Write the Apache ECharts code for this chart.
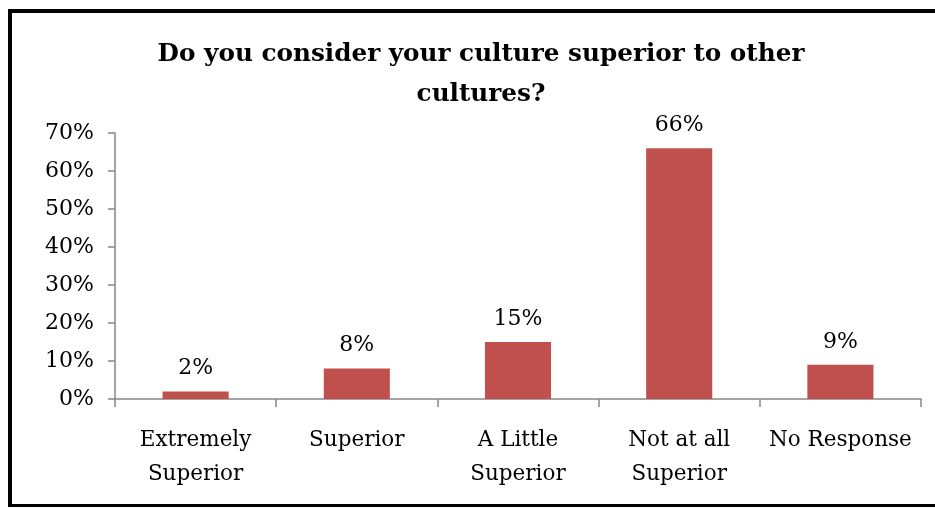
<!DOCTYPE html>
<html>
<head>
<meta charset="utf-8">
<script src="https://cdn.jsdelivr.net/npm/echarts@6/dist/echarts.min.js"></script>
<style>
  html, body { margin: 0; padding: 0; background: #fff; }
  #wrap { position: absolute; left: 0; top: 0; width: 935px; height: 508px; }
  #frame { position: absolute; left: 8px; top: 9px; width: 927px; height: 491px;
           border-left: 4px solid #000; border-top: 4px solid #000; border-bottom: 3px solid #000; box-sizing: content-box; }
  #chart { position: absolute; left: 0; top: 0; width: 935px; height: 508px; }
</style>
</head>
<body>
<div id="wrap">
  <div id="frame"></div>
  <div id="chart"></div>
</div>
<script>
// Survey responses, percent of respondents
const categories = ['Extremely\nSuperior', 'Superior', 'A Little\nSuperior', 'Not at all\nSuperior', 'No Response'];
const values = [2, 8, 15, 66, 9];
const yTicks = [0, 10, 20, 30, 40, 50, 60, 70];
const titleText = 'Do you consider your culture superior to other\ncultures?';

const FONT = "'DejaVu Serif', 'Liberation Serif', serif";
const AXIS_GRAY = '#868686';

const chart = echarts.init(document.getElementById('chart'), null, { renderer: 'canvas' });
chart.setOption({
  animation: false,
  backgroundColor: 'transparent',
  title: {
    text: titleText,
    left: 476,
    top: 30,
    textAlign: 'center',
    textStyle: { fontFamily: FONT, fontWeight: 'bold', fontSize: 24.7, lineHeight: 40, color: '#000' }
  },
  grid: { left: 115, right: 14, top: 133, bottom: 109, containLabel: false },
  xAxis: {
    type: 'category',
    data: categories,
    axisLine: { lineStyle: { color: AXIS_GRAY, width: 1.5 } },
    axisTick: { show: true, length: 8, alignWithLabel: false, lineStyle: { color: AXIS_GRAY, width: 1.5 } },
    axisLabel: { fontFamily: FONT, fontSize: 21.5, color: '#000', lineHeight: 34, margin: 24, interval: 0 }
  },
  yAxis: {
    type: 'value',
    min: yTicks[0],
    max: yTicks[yTicks.length - 1],
    interval: yTicks[1] - yTicks[0],
    splitLine: { show: false },
    axisLine: { show: true, lineStyle: { color: AXIS_GRAY, width: 1.5 } },
    axisTick: { show: true, length: 7, lineStyle: { color: AXIS_GRAY, width: 1.5 } },
    axisLabel: { fontFamily: FONT, fontSize: 22, color: '#000', margin: 21, formatter: v => v + '%' }
  },
  series: [{
    type: 'bar',
    data: values,
    barWidth: '41%',
    itemStyle: { color: '#C0504D' },
    label: {
      show: true,
      position: 'top',
      distance: 12,
      formatter: p => p.value + '%',
      fontFamily: FONT,
      fontSize: 22,
      color: '#000'
    }
  }]
});
</script>
</body>
</html>
